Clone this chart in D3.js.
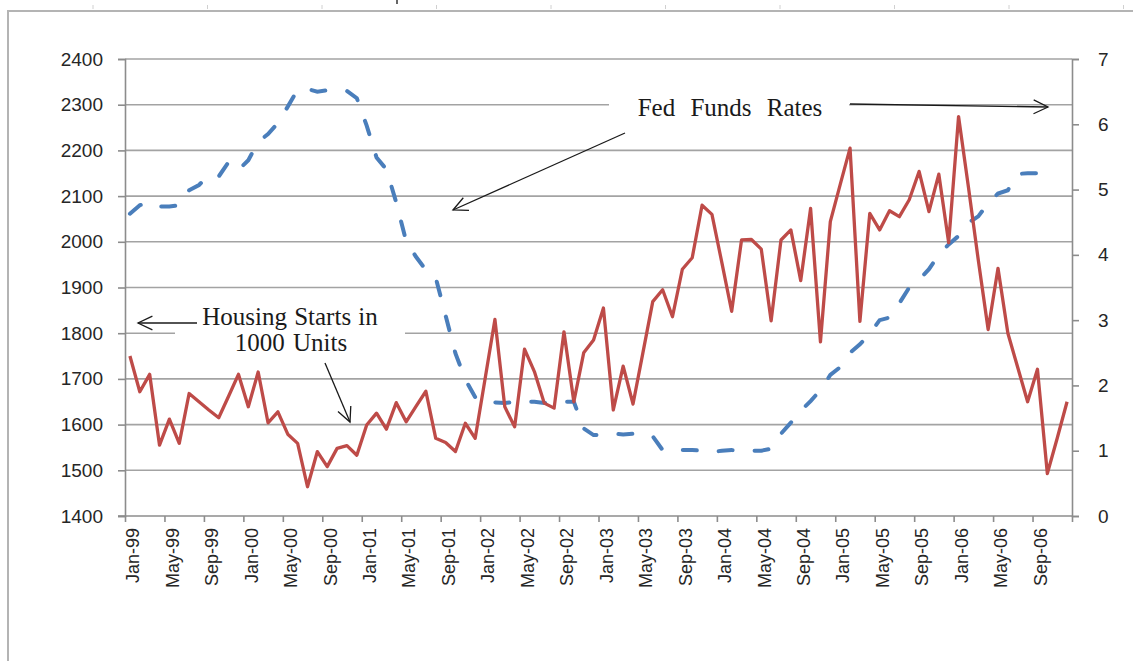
<!DOCTYPE html>
<html>
<head>
<meta charset="utf-8">
<script src="https://cdn.jsdelivr.net/npm/d3@7"></script>
<style>
	body{ margin:0; background:#fff; }
	svg{ display:block; }
</style>
</head>
<body>
<svg id="chart" width="1133" height="661"></svg>
<script>

// monthly categories Jan-99 .. Dec-06
var months = d3.timeMonth.range(new Date(1999, 0, 1), new Date(2007, 0, 1));

// housing starts, 1000 units (left axis)
var housingStarts = [
	1750, 1672, 1710, 1555, 1612, 1559, 1668, 1650, 1632, 1615, 1662, 1710,
	1639, 1715, 1604, 1628, 1579, 1559, 1464, 1541, 1508, 1548, 1554, 1533,
	1599, 1625, 1590, 1648, 1606, 1640, 1673, 1570, 1561, 1541, 1603, 1570,
	1700, 1830, 1639, 1595, 1765, 1716, 1647, 1636, 1803, 1650, 1757, 1785,
	1855, 1632, 1728, 1645, 1757, 1869, 1895, 1836, 1940, 1965, 2080, 2060,
	1955, 1848, 2004, 2005, 1984, 1827, 2004, 2026, 1915, 2073, 1781, 2044,
	2125, 2205, 1826, 2062, 2026, 2068, 2055, 2092, 2154, 2066, 2148, 1998,
	2274, 2120, 1960, 1808, 1942, 1800, 1725, 1650, 1721, 1493, 1570, 1650
];

// fed funds rate, % (right axis), Jan-99 .. Oct-06
var fedFunds = [
	4.63, 4.76, 4.81, 4.74, 4.74, 4.76, 4.99, 5.07, 5.22, 5.20, 5.42, 5.30,
	5.45, 5.73, 5.85, 6.02, 6.27, 6.53, 6.54, 6.50, 6.52, 6.51, 6.51, 6.40,
	5.98, 5.49, 5.31, 4.80, 4.21, 3.97, 3.77, 3.65, 3.07, 2.49, 2.09, 1.82,
	1.73, 1.74, 1.73, 1.75, 1.75, 1.75, 1.73, 1.74, 1.75, 1.75, 1.34, 1.24,
	1.24, 1.26, 1.25, 1.26, 1.26, 1.22, 1.01, 1.03, 1.01, 1.01, 1.00, 0.98,
	1.00, 1.01, 1.00, 1.00, 1.00, 1.03, 1.26, 1.43, 1.61, 1.76, 1.93, 2.16,
	2.28, 2.50, 2.63, 2.79, 3.00, 3.04, 3.26, 3.50, 3.62, 3.78, 4.00, 4.16,
	4.29, 4.49, 4.59, 4.79, 4.94, 4.99, 5.24, 5.25, 5.25, 5.25
];

var leftTicks = [1400, 1500, 1600, 1700, 1800, 1900, 2000, 2100, 2200, 2300, 2400];
var rightTicks = [0, 1, 2, 3, 4, 5, 6, 7];

var svg = d3.select("#chart");
var fmt = d3.timeFormat("%b-%y");
var font = "'Liberation Sans', Arial, sans-serif";
var serif = "'Liberation Serif', 'Times New Roman', serif";

var plotL = 125, plotR = 1072, plotT = 59, plotB = 516;

var x = d3.scaleBand()
	.domain(d3.range(months.length))
	.range([plotL, plotR]);

var xTick = d3.scaleLinear()
	.domain([0, months.length])
	.range([plotL, plotR]);

var yL = d3.scaleLinear().domain([1400, 2400]).range([plotB, plotT]);
var yR = d3.scaleLinear().domain([0, 7]).range([plotB, plotT]);

function cx(i){ return x(i) + x.bandwidth() / 2; }

// outer frame + ruler marks
svg.append("rect")
	.attr("x", 8).attr("y", 11)
	.attr("width", 1140).attr("height", 660)
	.attr("fill", "none")
	.attr("stroke", "#b4b4b4")
	.attr("stroke-width", 2);

svg.selectAll(".ruler")
	.data(d3.range(10))
	.enter().append("line")
	.attr("x1", function(d){ return 93 + d * 114.5; })
	.attr("x2", function(d){ return 93 + d * 114.5; })
	.attr("y1", 5).attr("y2", 9)
	.attr("stroke", "#d0d0d0");

svg.append("line")
	.attr("x1", 397).attr("x2", 397)
	.attr("y1", 0).attr("y2", 4)
	.attr("stroke", "#333").attr("stroke-width", 1.5);

// gridlines
svg.append("g")
	.selectAll("line")
	.data(leftTicks.slice(1))
	.enter().append("line")
	.attr("x1", plotL).attr("x2", plotR)
	.attr("y1", function(d){ return yL(d); })
	.attr("y2", function(d){ return yL(d); })
	.attr("stroke", "#a3a3a3")
	.attr("stroke-width", 1.6);

// axes
svg.append("g")
	.attr("transform", "translate(" + plotL + ",0)")
	.call(d3.axisLeft(yL).tickValues(leftTicks).tickSize(7).tickPadding(15).tickFormat(d3.format("d")));

svg.append("g")
	.attr("transform", "translate(" + plotR + ",0)")
	.call(d3.axisRight(yR).tickValues(rightTicks).tickSize(7).tickPadding(19).tickFormat(d3.format("d")));

var axisB = svg.append("g")
	.attr("transform", "translate(0," + plotB + ")")
	.call(d3.axisBottom(xTick).tickValues(d3.range(0, months.length + 1, 4)).tickSize(6).tickFormat(""));

axisB.select(".domain").attr("d", "M" + (plotL - 7) + ",0H" + plotR);

svg.selectAll(".domain, .tick line")
	.attr("stroke", "#8c8c8c")
	.attr("stroke-width", 1.6);

svg.selectAll(".tick text")
	.attr("font-family", font)
	.attr("font-size", 19)
	.attr("fill", "#262626");

// month labels, rotated
svg.append("g")
	.selectAll("text")
	.data(d3.range(0, months.length, 4))
	.enter().append("text")
	.attr("transform", function(d){ return "translate(" + (cx(d) + 3) + "," + (plotB + 12) + ") rotate(-90)"; })
	.attr("dy", "0.35em")
	.attr("text-anchor", "end")
	.attr("font-family", font)
	.attr("font-size", 18)
	.attr("fill", "#262626")
	.text(function(d){ return fmt(months[d]); });

// white boxes behind annotations
svg.append("rect")
	.attr("x", 609).attr("y", 90).attr("width", 240).attr("height", 34)
	.attr("fill", "#fff");
svg.append("rect")
	.attr("x", 175).attr("y", 298).attr("width", 230).attr("height", 66)
	.attr("fill", "#fff");

// fed funds, dashed
var lineR = d3.line()
	.x(function(d, i){ return cx(i); })
	.y(function(d){ return yR(d); });

svg.append("path")
	.datum(fedFunds)
	.attr("d", lineR)
	.attr("fill", "none")
	.attr("stroke", "#4a7ebb")
	.attr("stroke-width", 4)
	.attr("stroke-linecap", "round")
	.attr("stroke-dasharray", "14,22");

// housing starts
var lineL = d3.line()
	.x(function(d, i){ return cx(i); })
	.y(function(d){ return yL(d); });

svg.append("path")
	.datum(housingStarts)
	.attr("d", lineL)
	.attr("fill", "none")
	.attr("stroke", "#be4b48")
	.attr("stroke-width", 3.3)
	.attr("stroke-linejoin", "round");

// annotations
function arrow(x1, y1, x2, y2){
	var a = Math.atan2(y2 - y1, x2 - x1);
	var len = 16, spread = 0.45;
	var g = svg.append("g")
		.attr("stroke", "#1a1a1a")
		.attr("stroke-width", 1.3)
		.attr("fill", "none");
	g.append("line")
		.attr("x1", x1).attr("y1", y1)
		.attr("x2", x2).attr("y2", y2);
	g.append("path")
		.attr("d", "M" + (x2 - len * Math.cos(a - spread)) + "," + (y2 - len * Math.sin(a - spread)) +
			"L" + x2 + "," + y2 +
			"L" + (x2 - len * Math.cos(a + spread)) + "," + (y2 - len * Math.sin(a + spread)));
}

arrow(625, 133, 453, 210);
arrow(850, 104, 1048, 107);
arrow(197, 323, 138, 323);
arrow(325, 363, 350, 422);

function note(tx, ty, str, ws){
	svg.append("text")
		.attr("x", tx).attr("y", ty)
		.attr("text-anchor", "middle")
		.attr("font-family", serif)
		.attr("font-size", 25)
		.attr("word-spacing", ws)
		.attr("fill", "#1a1a1a")
		.text(str);
}

note(730, 116, "Fed Funds Rates", 9);
note(290, 325, "Housing Starts in", 1);
note(291, 351, "1000 Units", 2);

</script>
</body>
</html>
